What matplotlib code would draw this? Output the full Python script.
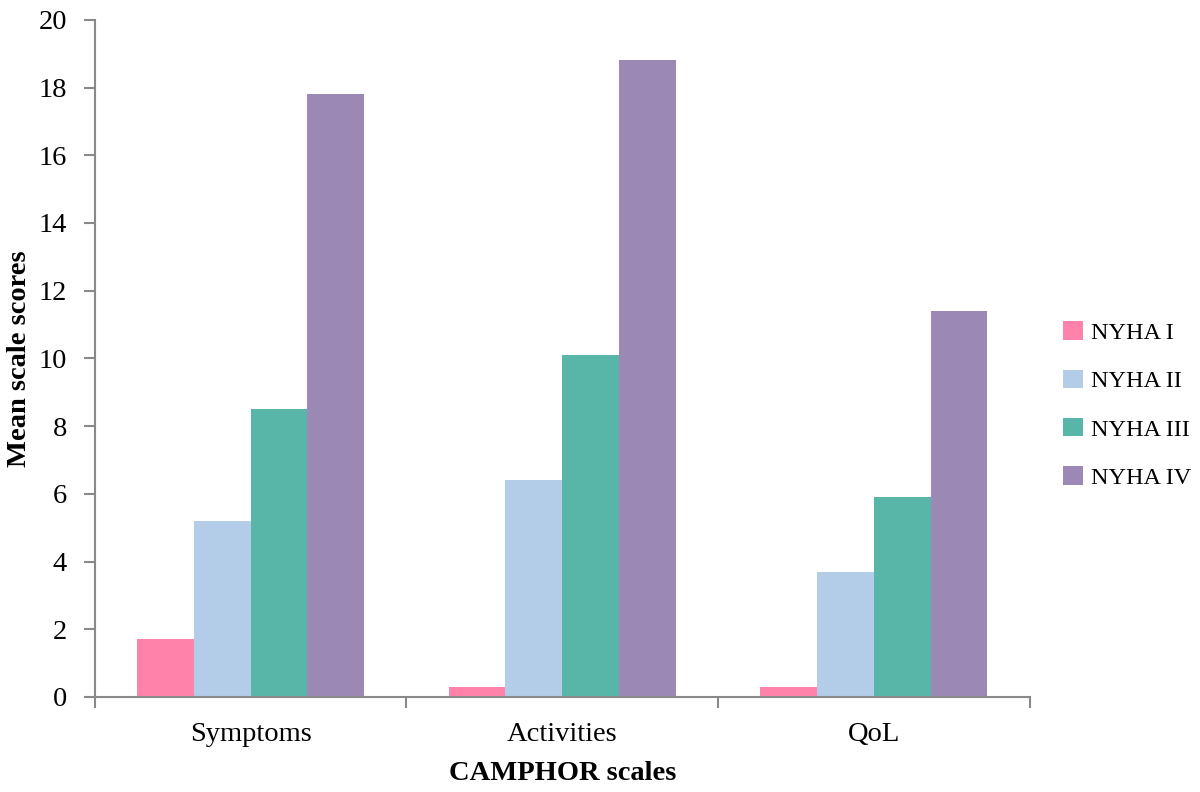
import matplotlib
matplotlib.use("Agg")
import matplotlib.pyplot as plt
import numpy as np

categories = ["Symptoms", "Activities", "QoL"]
series_names = ["NYHA I", "NYHA II", "NYHA III", "NYHA IV"]
nyha1 = [1.7, 0.3, 0.3]
nyha2 = [5.2, 6.4, 3.7]
nyha3 = [8.5, 10.1, 5.9]
nyha4 = [17.8, 18.8, 11.4]
colors = ["#FF82AB", "#B3CDE9", "#57B6A8", "#9B88B5"]
yticks = [0, 2, 4, 6, 8, 10, 12, 14, 16, 18, 20]

plt.rcParams['font.family'] = ['Liberation Serif', 'DejaVu Serif']

fig = plt.figure(figsize=(12, 7.92), dpi=100)
ax = fig.add_axes([0.079, 0.12, 0.779, 0.855])

x = np.arange(len(categories))
w = 0.182
for i, (vals, name, c) in enumerate(zip([nyha1, nyha2, nyha3, nyha4], series_names, colors)):
    ax.bar(x + (i - 1.5) * w, vals, width=w, color=c, label=name, linewidth=0)

ax.set_xlim(-0.5, 2.5)
ax.set_ylim(0, 20)
ax.set_yticks(yticks)
ax.tick_params(axis='y', direction='out', length=8, width=1.5, color='#898989', labelsize=20.5, pad=12)
ax.set_xticks([-0.5, 0.5, 1.5, 2.5])
ax.set_xticklabels([])
ax.set_xticks(x, minor=True)
ax.set_xticklabels(categories, minor=True, fontsize=20.5)
ax.tick_params(axis='x', which='major', direction='out', length=8, width=1.5, color='#898989')
ax.tick_params(axis='x', which='minor', length=0, pad=18)

for s in ['top', 'right']:
    ax.spines[s].set_visible(False)
for s in ['left', 'bottom']:
    ax.spines[s].set_color('#898989')
    ax.spines[s].set_linewidth(1.5)

ax.set_ylabel("Mean scale scores", fontsize=20.5, fontweight='bold', labelpad=5)
ax.set_xlabel("CAMPHOR scales", fontsize=20.5, fontweight='bold', labelpad=10)

leg = ax.legend(loc='center left', bbox_to_anchor=(1.036, 0.431), frameon=False, fontsize=17.5,
                handlelength=0.8, handleheight=0.8, handletextpad=0.35, labelspacing=1.05,
                borderaxespad=0, borderpad=0)

fig.savefig("out.png", dpi=100)
